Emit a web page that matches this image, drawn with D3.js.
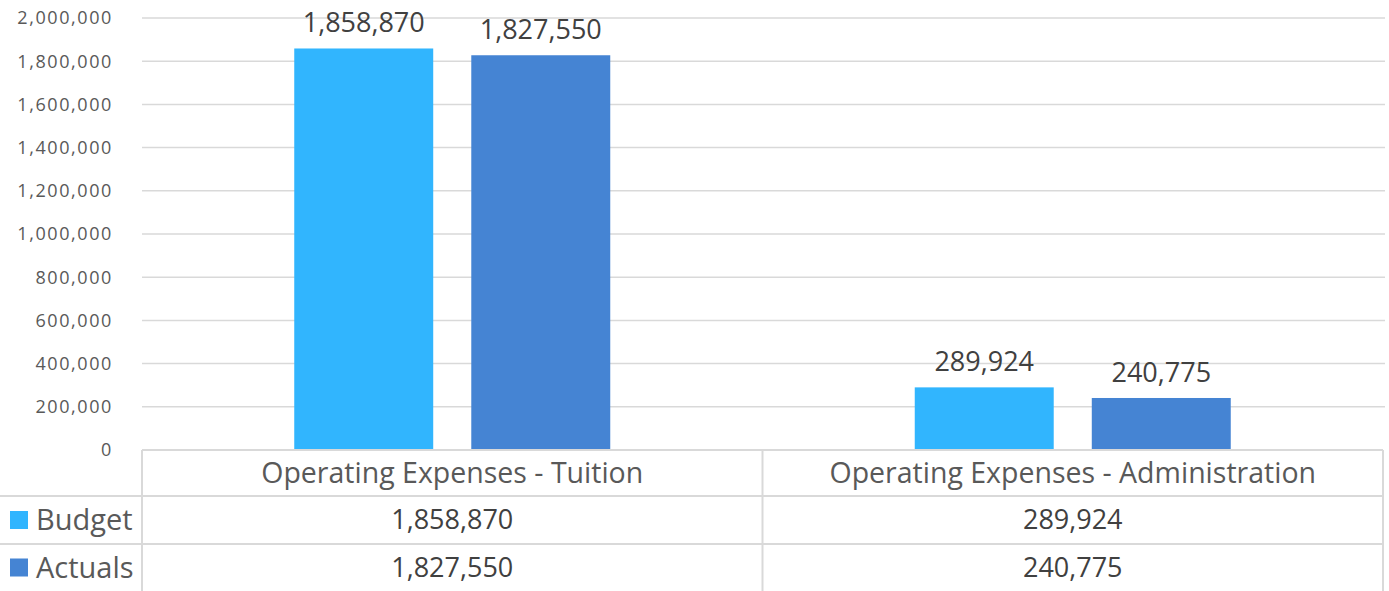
<!DOCTYPE html>
<html>
<head>
<meta charset="utf-8">
<script src="https://cdn.jsdelivr.net/npm/d3@7"></script>
<style>
  body { margin: 0; background: #fff; }
  svg text { font-family: "Open Sans", Lato, sans-serif; }
</style>
</head>
<body>
<svg id="chart" width="1389" height="591"></svg>
<script>
var categories = ["Operating Expenses - Tuition", "Operating Expenses - Administration"];
var seriesNames = ["Budget", "Actuals"];
var budget = [1858870, 289924];
var actuals = [1827550, 240775];
var yTicks = [0, 200000, 400000, 600000, 800000, 1000000, 1200000, 1400000, 1600000, 1800000, 2000000];
var colors = ["#31b5fe", "#4584d3"];

var W = 1389, H = 591;
var plotLeft = 142, plotRight = 1383, plotTop = 18, base = 450;
var rowH = [46, 48, 47];

var svg = d3.select("#chart");
var fmt = d3.format(",");
var series = [budget, actuals];

var y = d3.scaleLinear().domain([0, 2000000]).range([base, plotTop]);
var x0 = d3.scaleBand().domain(categories).range([plotLeft, plotRight]).paddingInner(0).paddingOuter(0);
var x1 = d3.scaleBand().domain(seriesNames).range([0, x0.bandwidth()]).paddingInner(0.215).paddingOuter(0.86);

// gridlines
svg.append("g")
  .selectAll("line")
  .data(yTicks.filter(function (d) { return d > 0; }))
  .enter()
  .append("line")
  .attr("x1", plotLeft)
  .attr("x2", plotRight + 2)
  .attr("y1", function (d) { return y(d); })
  .attr("y2", function (d) { return y(d); })
  .attr("stroke", "#d9d9d9")
  .attr("stroke-width", 1.5);

// y labels
svg.append("g")
  .selectAll("text")
  .data(yTicks)
  .enter()
  .append("text")
  .attr("x", 113)
  .attr("y", function (d) { return y(d); })
  .attr("dy", "0.35em")
  .attr("text-anchor", "end")
  .attr("fill", "#595959")
  .style("font-size", "18px")
  .style("letter-spacing", "1.6px")
  .text(function (d) { return fmt(d); });

// bars
var groups = svg.append("g")
  .selectAll("g")
  .data(categories)
  .enter()
  .append("g")
  .attr("transform", function (d) { return "translate(" + x0(d) + ",0)"; });

function rows(d, i) {
  return seriesNames.map(function (s, j) { return { s: s, v: series[j][i], j: j }; });
}

groups.selectAll("rect")
  .data(rows)
  .enter()
  .append("rect")
  .attr("x", function (d) { return x1(d.s); })
  .attr("width", x1.bandwidth())
  .attr("y", function (d) { return y(d.v); })
  .attr("height", function (d) { return base - y(d.v); })
  .attr("fill", function (d) { return colors[d.j]; });

groups.selectAll("text")
  .data(rows)
  .enter()
  .append("text")
  .attr("x", function (d) { return x1(d.s) + x1.bandwidth() / 2; })
  .attr("y", function (d) { return y(d.v) - 16; })
  .attr("text-anchor", "middle")
  .attr("fill", "#404040")
  .style("font-size", "27px")
  .text(function (d) { return fmt(d.v); });

// data table
var grid = svg.append("g").attr("stroke", "#d9d9d9").attr("stroke-width", 2).attr("fill", "none");
var r0 = base, r1 = base + rowH[0], r2 = r1 + rowH[1], r3 = r2 + rowH[2];
grid.append("line").attr("x1", plotLeft).attr("x2", plotRight).attr("y1", r0).attr("y2", r0);
grid.append("line").attr("x1", 0).attr("x2", plotRight).attr("y1", r1).attr("y2", r1);
grid.append("line").attr("x1", 0).attr("x2", plotRight).attr("y1", r2).attr("y2", r2);
grid.append("line").attr("x1", plotLeft).attr("x2", plotLeft).attr("y1", r0).attr("y2", H);
grid.append("line").attr("x1", plotRight).attr("x2", plotRight).attr("y1", r0).attr("y2", H);
grid.append("line").attr("x1", x0(categories[1])).attr("x2", x0(categories[1])).attr("y1", r0).attr("y2", H);

svg.append("g")
  .selectAll("text")
  .data(categories)
  .enter()
  .append("text")
  .attr("x", function (d) { return x0(d) + x0.bandwidth() / 2; })
  .attr("y", (r0 + r1) / 2)
  .attr("dy", "0.35em")
  .attr("text-anchor", "middle")
  .attr("fill", "#595959")
  .style("font-size", "28.5px")
  .text(function (d) { return d; });

var rowsY = [(r1 + r2) / 2, (r2 + r3) / 2];
seriesNames.forEach(function (s, j) {
  var g = svg.append("g");
  g.append("rect")
    .attr("x", 10).attr("y", rowsY[j] - 9)
    .attr("width", 18).attr("height", 18)
    .attr("fill", colors[j]);
  g.append("text")
    .attr("x", 36).attr("y", rowsY[j])
    .attr("dy", "0.35em")
    .attr("fill", "#595959")
    .style("font-size", "29px")
    .text(s);
  g.selectAll("text.val")
    .data(series[j])
    .enter()
    .append("text")
    .attr("class", "val")
    .attr("x", function (d, i) { return x0(categories[i]) + x0.bandwidth() / 2; })
    .attr("y", rowsY[j])
    .attr("dy", "0.35em")
    .attr("text-anchor", "middle")
    .attr("fill", "#404040")
    .style("font-size", "27px")
    .text(function (d) { return fmt(d); });
});
</script>
</body>
</html>
